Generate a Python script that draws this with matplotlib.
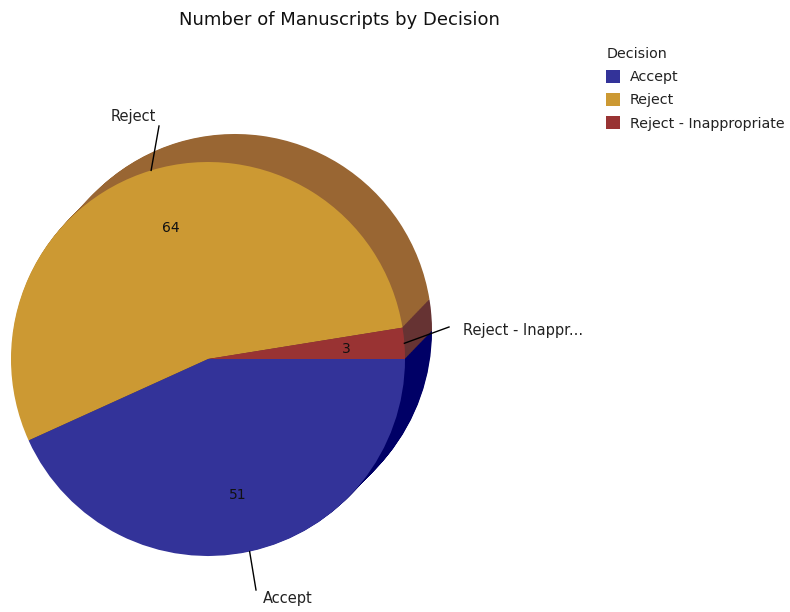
import matplotlib
matplotlib.use('Agg')
import matplotlib.pyplot as plt
import numpy as np

# datos del grafico
decisiones = ['Accept', 'Reject', 'Reject - Inappropriate']
etiquetas = ['Accept', 'Reject', 'Reject - Inappr...']
valores = [51, 64, 3]
colores = ['#333399', '#CC9933', '#993333']
colores_oscuros = ['#000066', '#996633', '#663333']

plt.rcParams['font.family'] = 'DejaVu Sans'

fig = plt.figure(figsize=(7.9, 6.12), dpi=100)
ax = fig.add_axes([0, 0, 1, 1])

# centro y radio en pixeles, eje y invertido para medir como en la imagen
cx, cy, radio = 208, 359, 197
desp_x, desp_y = 27, -28
pasos = 40

# lado oscuro: tartas apiladas de atras hacia delante
for i in range(pasos, 0, -1):
    f = i / pasos
    ax.pie(valores, colors=colores_oscuros, radius=radio, startangle=0,
           center=(cx + desp_x * f, cy + desp_y * f), frame=True)

total = sum(valores)
wedges, _, autotextos = ax.pie(valores, colors=colores, radius=radio, startangle=0,
                               center=(cx, cy), frame=True, pctdistance=0.7,
                               autopct=lambda p: f'{p * total / 100:.0f}')
for t in autotextos:
    t.set_fontsize(10)
    t.set_color('#111111')
    t.set_position((t.get_position()[0] + 1, t.get_position()[1] + 1.5))
# el 64 esta un poco mas a la derecha
autotextos[1].set_x(autotextos[1].get_position()[0] + 2)

ax.set_xlim(0, 790)
ax.set_ylim(612, 0)
ax.set_aspect('equal')
ax.axis('off')

# lineas guia desde el punto medio de cada sector
codos = [(256, 590), (159, 126), (449, 327)]
textos = [(263, 598, 'left'), (156, 117, 'right'), (463, 331, 'left')]
for w, et, codo, pos in zip(wedges, etiquetas, codos, textos):
    ang = np.deg2rad((w.theta1 + w.theta2) / 2)
    x0 = cx + radio * np.cos(ang)
    y0 = cy + radio * np.sin(ang)
    ax.plot([x0, codo[0]], [y0, codo[1]], color='black', lw=1)
    ax.text(pos[0], pos[1], et, ha=pos[2], va='center', fontsize=10.5, color='#222222')

ax.text(339, 20, 'Number of Manuscripts by Decision', ha='center', va='center',
        fontsize=13, color='#111111')

ley = ax.legend(wedges, decisiones, title='Decision', loc='upper left',
                bbox_to_anchor=(599 / 790, 1 - 40 / 612), frameon=False,
                fontsize=10.3, title_fontsize=10.3, alignment='left',
                handlelength=1.0, handleheight=1.0, handletextpad=0.65,
                labelspacing=0.62, borderpad=0.5, borderaxespad=0)
for t in ley.get_texts():
    t.set_color('#222222')
ley.get_title().set_color('#222222')

fig.savefig('out.png', dpi=100)
